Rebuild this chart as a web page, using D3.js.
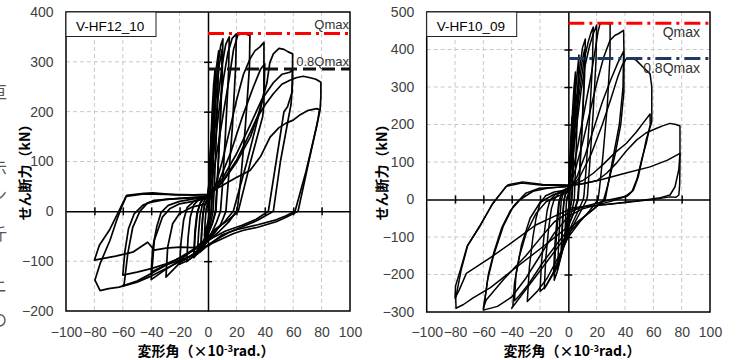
<!DOCTYPE html>
<html>
<head>
<meta charset="utf-8">
<script src="https://cdn.jsdelivr.net/npm/d3@7"></script>
<style>
  body { margin: 0; background: #fff; }
  svg { display: block; }
</style>
</head>
<body>
<div id="chart"></div>
<script>
// ---- data: [drift angle (x10^-3 rad), shear force (kN)] ----
const xTicks = [-100, -80, -60, -40, -20, 0, 20, 40, 60, 80, 100];
const yTicksA = [-200, -100, 0, 100, 200, 300, 400];
const yTicksB = [-300, -200, -100, 0, 100, 200, 300, 400, 500];
const qmaxA = 357;
const qmaxB = 470;

// V-HF12_10
const hf12Small = [
  [[0,0],[0.8,50],[1.6,110],[2.5,160],[2.2,110],[1.5,40],[1,0],[0,-20],[-1.2,-35],[-2.5,-50],[-2,-20],[-1.3,5],[0,18]],
  [[0,18],[1,70],[2,140],[3,205],[4,255],[5,285],[4.6,215],[3.6,110],[2.6,25],[2.2,0],[1,-20],[0,-35],[-1.5,-52],[-3,-64],[-5,-76],[-4.3,-38],[-3.6,-8],[-2.6,10],[-1,20],[0,24]],
  [[0,24],[1.2,75],[2.4,145],[3.6,210],[5,262],[4.6,190],[3.6,95],[2.8,20],[2.4,0],[1,-18],[0,-30],[-2,-50],[-3.5,-62],[-5,-70],[-4.4,-35],[-3.6,-5],[-2.5,12],[-1,22],[0,26]],
  [[0,26],[1,75],[2.5,150],[4,225],[5.5,280],[7.5,322],[7,250],[5.6,130],[4.2,35],[3.5,0],[2,-22],[0,-42],[-2,-58],[-4.5,-73],[-7.5,-86],[-6.6,-42],[-5.6,-8],[-4,13],[-2,24],[0,28]],
  [[0,28],[1.5,85],[3,155],[5,235],[7,297],[9,333],[10.5,346],[10,270],[8.2,150],[6.3,50],[5.2,0],[3,-25],[0,-47],[-3,-66],[-6,-80],[-10,-93],[-9,-45],[-7.6,-6],[-5.6,16],[-3,27],[0,31]],
  [[0,31],[2,90],[4,165],[6,240],[8,295],[10,325],[9.6,250],[8,140],[6.4,45],[5.6,0],[3,-24],[0,-44],[-4,-66],[-7,-78],[-10,-86],[-9.2,-40],[-7.8,-4],[-5.5,16],[-3,26],[0,30]]
];
const hf12Mid = [
  [[0,30],[2,80],[4.5,155],[7,225],[10,295],[12.5,335],[15,350],[14.5,280],[12.2,150],[10,45],[8.8,0],[6,-22],[2,-46],[-2,-63],[-6,-79],[-10,-90],[-15,-101],[-14,-52],[-12.5,-12],[-10,13],[-6,25],[0,31]],
  [[0,31],[2,72],[5,140],[8,208],[11,268],[14,318],[17,347],[20,356],[19.5,292],[17.2,170],[14.3,60],[12.6,0],[9,-26],[4,-46],[-2,-66],[-8,-86],[-14,-98],[-20,-106],[-19,-62],[-17.2,-18],[-14.6,8],[-10,20],[-4,27],[0,31]],
  [[0,31],[3,66],[7,130],[11,200],[15,268],[18,325],[21,354],[25,357],[29.5,353],[29.2,290],[26.3,170],[23.3,72],[21,12],[20,0],[15,-20],[8,-40],[0,-60],[-10,-85],[-20,-104],[-29.6,-132],[-28.4,-72],[-24.9,-25],[-20.2,-5],[-10.8,9],[0,16]]
];
const hf12Large = [
  [[0,16],[5,50],[10,100],[15,160],[20,222],[25,275],[29.6,306],[33,322],[36.6,330],[39.4,339],[39.4,260],[39.4,215],[38.5,190],[30,100],[21.3,0],[14,-18],[5,-36],[0,-52],[-10,-76],[-20,-99],[-30,-117],[-40,-137],[-37.8,-58],[-32,-11],[-27,5],[-20,15],[-1.4,25]],
  [[-1.4,25],[8,62],[16,118],[24,188],[32,250],[37,285],[40,296],[39.5,240],[37,205],[35,185],[27,95],[17.8,0],[12,-20],[5,-40],[0,-55],[-10,-76],[-20,-93],[-30,-108],[-40,-122],[-39,-75],[-36,-30],[-33,-2],[-28,12],[-20,20],[-10,25],[0,28]],
  [[0,28],[10,58],[20,98],[30,150],[36,200],[41.5,258],[43.5,298],[46,316],[50,327],[53.5,325],[56.5,320],[59.6,316],[59.5,260],[58.5,215],[57.5,200],[51,100],[46,0],[35,-18],[25,-30],[15,-42],[5,-58],[-5,-77],[-15,-94],[-25,-108],[-40,-130],[-50,-142],[-60,-150],[-59,-145],[-56.5,-85],[-53,-32],[-48,0],[-42.5,17],[-29.6,24],[-1.4,29]],
  [[-1.4,29],[10,65],[20,115],[30,175],[38,225],[46,258],[52,275],[57.7,279],[59.5,285],[59.3,240],[56,210],[53.5,200],[48,100],[42.5,0],[34,-16],[24,-28],[12,-40],[0,-58],[-10,-78],[-20,-94],[-30,-106],[-40,-115],[-50,-122],[-60,-128],[-58.5,-80],[-56,-35],[-52,-5],[-46,12],[-38,22],[-20,26],[0,30]]
];
const hf12Final = [
  [[0,30],[10,60],[20,102],[30,160],[34,185],[40,213],[46,236],[52,255],[57.7,263],[62,268],[67,271],[72,268],[76,265],[79.5,259],[79.5,230],[78.9,203],[71,100],[63.4,0],[55,-12],[48,-21],[35,-32],[25,-38],[17.6,-45],[10,-55],[0,-68],[-5.6,-82],[-15,-93],[-29,-107],[-40,-125],[-50,-140],[-62.5,-152],[-70,-155],[-76,-159],[-79.6,-138],[-76,-105],[-69,-58],[-64.3,-18],[-60.8,9],[-57.3,32],[-45,36],[-38.9,37],[-22.5,33],[-1.4,33]],
  [[-1.4,33],[10,52],[20,68],[29.6,82],[37,110],[43.7,149],[50,168],[55,177],[60,183],[65,194],[70,202],[76.5,206],[78.5,204],[77.5,185],[76.5,170],[69,80],[61.3,0],[55,-9],[48,-17],[35,-27],[20,-37],[10,-47],[0,-70],[-10,-73],[-20,-72],[-29.6,-74],[-37.8,-78],[-42.5,-62],[-53,-82],[-65,-90],[-80,-98],[-76.5,-68],[-69.5,-38],[-62.5,2],[-57.7,30],[-45,35],[-30,34],[-10,33],[0,34]]
];

// V-HF10_09
const hf10Small = [
  [[0,0],[0.8,70],[1.6,150],[2.5,220],[2.2,150],[1.6,60],[1.1,0],[0,-35],[-1.2,-70],[-2.5,-105],[-2,-55],[-1.4,-10],[-1,5],[0,15]],
  [[0,15],[1,85],[2,165],[3,240],[4,300],[5,340],[4.6,260],[3.6,135],[2.6,30],[2.2,0],[1,-30],[0,-52],[-1.5,-85],[-3,-115],[-5,-145],[-4.3,-85],[-3.6,-32],[-3,-2],[-2,14],[0,24]],
  [[0,24],[1.2,90],[2.4,170],[3.6,245],[5,310],[4.6,230],[3.7,120],[2.9,25],[2.5,0],[1,-28],[0,-48],[-2,-90],[-3.5,-115],[-5,-135],[-4.4,-75],[-3.7,-25],[-3,0],[-2,15],[0,25]],
  [[0,25],[1.5,100],[3,180],[4.5,260],[6,330],[7.5,385],[7,300],[5.8,165],[4.6,40],[4.2,0],[2.5,-30],[0,-62],[-2,-97],[-4,-130],[-6,-160],[-7.5,-185],[-6.8,-110],[-5.8,-40],[-5,-2],[-3.5,18],[-1.5,27],[0,30]],
  [[0,30],[2,110],[4,200],[6,280],[8,350],[10,405],[12,428],[11.5,330],[9.6,185],[7.6,55],[6.5,0],[4,-32],[1,-62],[-2,-102],[-5,-150],[-8,-195],[-10,-215],[-9.2,-140],[-7.6,-60],[-6.5,-12],[-5,13],[-2.5,27],[0,31]],
  [[0,31],[2.5,115],[5,215],[7.5,305],[10,375],[11.5,400],[11,310],[9.4,175],[7.8,50],[7,0],[4,-35],[0,-70],[-3,-115],[-6,-160],[-9,-190],[-10.5,-200],[-9.6,-125],[-8,-50],[-6.8,-8],[-5,14],[-2.5,25],[0,30]]
];
const hf10Mid = [
  [[0,30],[2.5,110],[5,200],[8,290],[11,370],[14,420],[16,445],[17.6,460],[17,360],[15,220],[12.5,80],[11,10],[10.5,0],[7,-30],[3,-62],[-1,-97],[-5,-140],[-10,-190],[-15,-225],[-17,-238],[-16,-160],[-14,-80],[-12,-25],[-10,0],[-7,15],[-3,25],[0,30]],
  [[0,30],[3,110],[6,200],[9,290],[12,360],[15,410],[17.6,442],[20,465],[19.5,370],[17.5,230],[15,90],[13.5,10],[13,0],[9,-30],[4,-65],[-1,-105],[-6,-155],[-11,-200],[-16,-232],[-20,-245],[-19,-170],[-17,-90],[-15,-30],[-13,-2],[-9,14],[-4,24],[0,29]],
  [[0,29],[4,90],[8,170],[12,250],[16,330],[19,400],[21,448],[22.4,469],[26,471],[29.5,468],[29.4,380],[27.5,250],[24.5,120],[22,30],[21,0],[15,-30],[8,-60],[0,-100],[-8,-160],[-15,-210],[-22,-245],[-29,-272],[-27.5,-180],[-25,-100],[-22.8,-50],[-20,-10],[-16,10],[-10,20],[0,26]]
];
const hf10Large = [
  [[0,26],[5,80],[10,150],[15,230],[20,310],[25,380],[29.5,425],[33,438],[35.3,442],[39,451],[39.3,380],[39.2,286],[37,200],[33,120],[28,40],[25,0],[18,-25],[10,-50],[0,-90],[-10,-140],[-20,-190],[-30,-240],[-40,-290],[-39.2,-286],[-38,-223],[-34.6,-152],[-29.8,-90],[-22.8,-37],[-15.7,-6],[-8,8],[-1.6,17]],
  [[-1.6,17],[6,60],[12,120],[18,190],[24,260],[30,320],[35,365],[39,395],[38.6,300],[36,200],[31,100],[27,20],[26,0],[18,-25],[8,-55],[0,-80],[-8,-118],[-18,-168],[-28,-225],[-35,-258],[-38,-270],[-37,-200],[-33,-120],[-27,-50],[-20,-8],[-10,14],[0,22]],
  [[0,22],[8,60],[16,120],[24,200],[30,268],[35,328],[38,358],[41,376],[44.7,378],[48,371],[53,352],[57.7,335],[58.9,300],[58.9,207],[55,160],[53,123],[49.4,61],[45.9,25],[42,10],[38.8,6],[30,-5],[20,-15],[10,-25],[0,-45],[-10,-90],[-20,-150],[-30,-210],[-40,-260],[-50,-285],[-60,-295],[-59.3,-277],[-57,-215],[-53,-152],[-46,-72],[-39,-19],[-30,17],[-20.5,30],[-1.6,34]],
  [[-1.6,34],[10,50],[17.6,70],[25,95],[33,125],[41,150],[48,180],[53,205],[57.7,228],[57.8,200],[55,150],[52,110],[48.5,55],[45,22],[40,8],[30,0],[20,-10],[10,-20],[0,-35],[-10,-60],[-18,-95],[-30,-150],[-45,-210],[-58,-268],[-60,-290],[-59,-268],[-56.5,-200],[-52.5,-140],[-47,-75],[-41,-30],[-34,0],[-25,22],[-15,30],[0,35]]
];
const hf10Final = [
  [[0,35],[10,42],[20,50],[27,70],[34,97],[41,130],[48.3,159],[55,178],[62.4,190],[67,197],[71.8,203],[76,200],[78.8,196],[78.8,150],[78.8,100],[78.6,40],[78,12],[76,6],[71.8,7],[65,3],[57.7,-1],[40,-8],[22.4,-15],[10,-19],[0,-23],[-1.6,-77],[-18,-126],[-39.2,-188],[-55,-235],[-67.5,-263],[-74,-280],[-79.3,-290],[-79.5,-263],[-75.7,-188],[-71,-122],[-62.8,-72],[-53.4,-10],[-42.8,39],[-32.2,47],[-18,40],[-1.6,39]],
  [[-1.6,39],[10,42],[22.4,52],[40,70],[57.7,87],[70,105],[78.8,123],[78,80],[75.3,34],[71.8,12],[65,5],[50,-3],[30,-12],[10,-20],[0,-28],[-10,-45],[-23,-68],[-40,-115],[-55,-155],[-72,-197],[-77,-241],[-80,-263],[-79.6,-230],[-76,-185],[-71.5,-125],[-63,-75],[-54,-15],[-44,35],[-33,44],[-18,38],[0,38]]
];

// cut-off text from the neighbouring page column
const marginText = ['亘', '示', 'ン', '斤', 'ニ', 'の'];
const marginY = [98, 174, 201, 240, 292, 326];

// ---- layout ----
const W = 739, H = 360;
const tickFont = '"Liberation Sans", Arial, sans-serif';
const cjkFont = '"Noto Sans CJK JP", "Noto Sans", sans-serif';

const panels = [
  { name: 'V-HF12_10', left: 66, right: 350, top: 12, bottom: 311, xPad: 16,
    yTicks: yTicksA, loops: [].concat(hf12Small, hf12Mid, hf12Large, hf12Final),
    qmax: qmaxA, lowColor: '#111', lowDash: '13,6', labelSize: 13,
    qLabelX: 349, qLabelDy: [-4, -3], yTitleX: 24, xTitleX: 206, strokeW: 1.7 },
  { name: 'V-HF10_09', left: 426.7, right: 710, top: 12, bottom: 312, xPad: 15.5,
    yTicks: yTicksB, loops: [].concat(hf10Small, hf10Mid, hf10Large, hf10Final),
    qmax: qmaxB, lowColor: '#1f3864', lowDash: '16,5,3,5', labelSize: 14,
    qLabelX: 700, qLabelDy: [14, 14], yTitleX: 381, xTitleX: 572, strokeW: 1.5 }
];

const svg = d3.select('#chart').append('svg')
  .attr('width', W).attr('height', H);

svg.append('g').selectAll('text').data(marginText).join('text')
  .attr('x', -9).attr('y', (d, i) => marginY[i])
  .attr('font-family', cjkFont).attr('font-size', 16).attr('fill', '#555')
  .text(d => d);

panels.forEach(drawPanel);

function drawPanel(p) {
  const x = d3.scaleLinear().domain([-100, 100]).range([p.left, p.right]);
  const y = d3.scaleLinear().domain(d3.extent(p.yTicks)).range([p.bottom, p.top]);
  const g = svg.append('g');

  // dashed grid
  const innerX = xTicks.filter(d => d !== 0 && Math.abs(d) < 100);
  const innerY = p.yTicks.filter((d, i) => d !== 0 && i > 0 && i < p.yTicks.length - 1);
  g.append('g').selectAll('line').data(innerX).join('line')
    .attr('x1', d => x(d)).attr('x2', d => x(d))
    .attr('y1', p.top).attr('y2', p.bottom)
    .attr('stroke', '#c8c8c8').attr('stroke-dasharray', '4,3');
  g.append('g').selectAll('line').data(innerY).join('line')
    .attr('x1', p.left).attr('x2', p.right)
    .attr('y1', d => y(d)).attr('y2', d => y(d))
    .attr('stroke', '#c8c8c8').attr('stroke-dasharray', '4,3');

  // tick labels on the outside
  g.append('g').attr('transform', `translate(0,${p.bottom})`)
    .call(d3.axisBottom(x).tickValues(xTicks).tickSize(0).tickPadding(p.xPad))
    .call(a => a.select('.domain').remove())
    .attr('font-family', tickFont).attr('font-size', 14).attr('color', '#404040');
  g.append('g').attr('transform', `translate(${p.left},0)`)
    .call(d3.axisLeft(y).tickValues(p.yTicks).tickSize(0).tickPadding(12.5))
    .call(a => a.select('.domain').remove())
    .attr('font-family', tickFont).attr('font-size', 14).attr('color', '#404040');

  // zero axes with crossing ticks (no labels)
  const zx = g.append('g').attr('transform', `translate(0,${y(0)})`)
    .call(d3.axisBottom(x).tickValues(innerX).tickSize(4).tickSizeOuter(0));
  zx.selectAll('.tick text').remove();
  zx.selectAll('.tick line').attr('y1', -4).attr('stroke-width', 1.5);
  zx.select('.domain').attr('stroke-width', 1.5);
  const zy = g.append('g').attr('transform', `translate(${x(0)},0)`)
    .call(d3.axisLeft(y).tickValues(innerY).tickSize(4).tickSizeOuter(0));
  zy.selectAll('.tick text').remove();
  zy.selectAll('.tick line').attr('x1', 4).attr('stroke-width', 1.5);
  zy.select('.domain').attr('stroke-width', 1.5);

  // hysteresis loops
  const clipId = 'clip' + p.name.replace(/\W/g, '');
  g.append('clipPath').attr('id', clipId).append('rect')
    .attr('x', p.left).attr('y', p.top)
    .attr('width', p.right - p.left).attr('height', p.bottom - p.top);
  const line = d3.line().x(d => x(d[0])).y(d => y(d[1]));
  g.append('g').attr('clip-path', `url(#${clipId})`)
    .selectAll('path').data(p.loops).join('path')
    .attr('d', line).attr('fill', 'none').attr('stroke', '#000')
    .attr('stroke-width', p.strokeW).attr('stroke-linejoin', 'round');

  // Qmax and 0.8Qmax reference lines
  g.append('line').attr('x1', x(0)).attr('x2', x(100))
    .attr('y1', y(p.qmax)).attr('y2', y(p.qmax))
    .attr('stroke', '#ff0000').attr('stroke-width', 3).attr('stroke-dasharray', '16,5,3,5');
  g.append('line').attr('x1', x(0)).attr('x2', x(100))
    .attr('y1', y(0.8 * p.qmax)).attr('y2', y(0.8 * p.qmax))
    .attr('stroke', p.lowColor).attr('stroke-width', 3).attr('stroke-dasharray', p.lowDash);
  g.append('text').attr('x', p.qLabelX).attr('y', y(p.qmax) + p.qLabelDy[0])
    .attr('text-anchor', 'end').attr('font-family', tickFont)
    .attr('font-size', p.labelSize).attr('fill', '#333').text('Qmax');
  g.append('text').attr('x', p.qLabelX).attr('y', y(0.8 * p.qmax) + p.qLabelDy[1])
    .attr('text-anchor', 'end').attr('font-family', tickFont)
    .attr('font-size', p.labelSize).attr('fill', '#333').text('0.8Qmax');

  // frame
  g.append('rect').attr('x', p.left).attr('y', p.top)
    .attr('width', p.right - p.left).attr('height', p.bottom - p.top)
    .attr('fill', 'none').attr('stroke', '#000').attr('stroke-width', 1.5);

  // specimen name box
  g.append('rect').attr('x', p.left).attr('y', p.top)
    .attr('width', 90).attr('height', 24.5)
    .attr('fill', '#fff').attr('stroke', '#222').attr('stroke-width', 1);
  g.append('text').attr('x', p.left + 10).attr('y', p.top + 18.5)
    .attr('font-family', tickFont).attr('font-size', 13.5).attr('fill', '#000')
    .text(p.name);

  // axis titles
  g.append('text')
    .attr('transform', `translate(${p.yTitleX},169) rotate(-90)`)
    .attr('text-anchor', 'middle').attr('dominant-baseline', 'central')
    .attr('font-family', cjkFont).attr('font-weight', 'bold').attr('font-size', 14)
    .text('せん断力（kN）');
  const xt = g.append('text').attr('x', p.xTitleX).attr('y', 356)
    .attr('text-anchor', 'middle')
    .attr('font-family', cjkFont).attr('font-weight', 'bold').attr('font-size', 14);
  xt.append('tspan').text('変形角（×10');
  xt.append('tspan').attr('dy', -4).attr('font-size', 9.5).text('-3');
  xt.append('tspan').attr('dy', 4).text('rad.）');
}
</script>
</body>
</html>
